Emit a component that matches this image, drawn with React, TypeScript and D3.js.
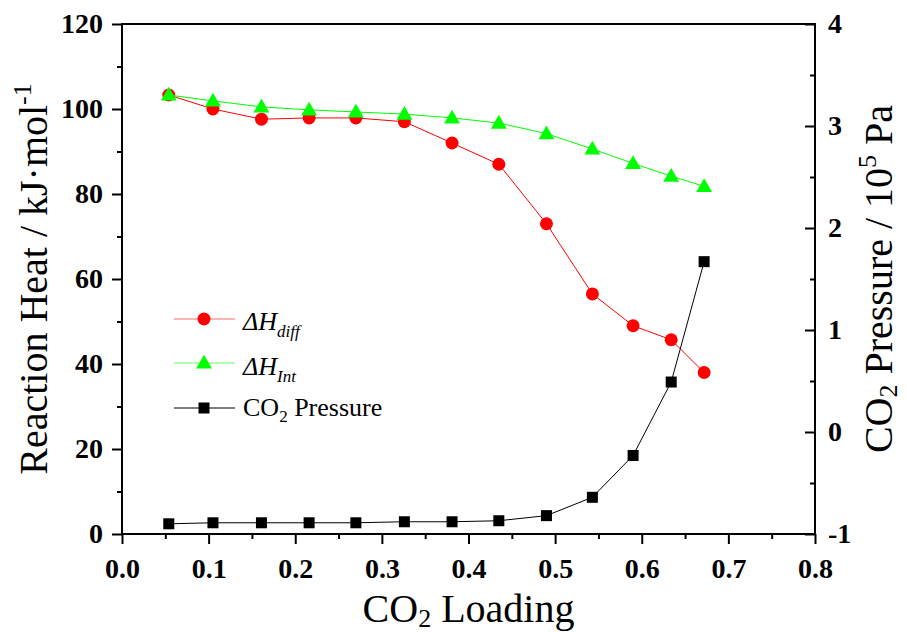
import React, { useEffect, useRef } from 'react';
import * as d3 from 'd3';

// CO2 loading (x) for every measured point
const loading = [0.054, 0.105, 0.161, 0.216, 0.270, 0.326, 0.381, 0.435, 0.490, 0.543, 0.590, 0.634, 0.672];
// differential reaction heat, kJ/mol
const dhDiff = [103.3, 100.0, 97.6, 97.9, 97.9, 97.0, 92.0, 87.0, 73.0, 56.5, 49.0, 45.7, 38.0];
// integral reaction heat, kJ/mol
const dhInt = [103.3, 101.9, 100.5, 99.8, 99.3, 98.8, 97.9, 96.7, 94.2, 90.6, 87.2, 84.2, 81.8];
// CO2 pressure, 10^5 Pa (right axis)
const pressure = [-0.90, -0.89, -0.89, -0.89, -0.89, -0.88, -0.88, -0.87, -0.82, -0.64, -0.23, 0.49, 1.67];

const xTicks = [0, 0.1, 0.2, 0.3, 0.4, 0.5, 0.6, 0.7, 0.8];
const yLeftTicks = [0, 20, 40, 60, 80, 100, 120];
const yRightTicks = [-1, 0, 1, 2, 3, 4];

const FONT = "'Liberation Serif', 'Times New Roman', serif";

export default function App() {
    const ref = useRef<SVGSVGElement>(null);

    useEffect(() => {
        const svg = d3.select(ref.current);
        svg.selectAll('*').remove();

        const left = 122, right = 815, top = 24, bottom = 534;

        const x = d3.scaleLinear().domain([0, 0.8]).range([left, right]);
        const yL = d3.scaleLinear().domain([0, 120]).range([bottom, top]);
        const yR = d3.scaleLinear().domain([-1, 4]).range([bottom, top]);

        const g = svg.append('g');

        // frame
        g.append('rect')
            .attr('x', left).attr('y', top)
            .attr('width', right - left).attr('height', bottom - top)
            .attr('fill', 'none').attr('stroke', '#000').attr('stroke-width', 2);

        // bottom axis, outward ticks
        const bottomAxis = g.append('g')
            .attr('transform', `translate(0,${bottom})`)
            .call(d3.axisBottom(x).tickValues(xTicks).tickSize(10).tickPadding(14)
                .tickFormat(d3.format('.1f')));
        g.append('g')
            .attr('transform', `translate(0,${bottom})`)
            .call(d3.axisBottom(x).tickValues(d3.range(0.05, 0.8, 0.1)).tickSize(5).tickFormat(() => ''));

        // left axis, outward ticks
        const leftAxis = g.append('g')
            .attr('transform', `translate(${left},0)`)
            .call(d3.axisLeft(yL).tickValues(yLeftTicks).tickSize(10).tickPadding(8));
        g.append('g')
            .attr('transform', `translate(${left},0)`)
            .call(d3.axisLeft(yL).tickValues(d3.range(10, 120, 20)).tickSize(5).tickFormat(() => ''));

        // right axis, inward ticks
        const rightAxis = g.append('g')
            .attr('transform', `translate(${right},0)`)
            .call(d3.axisRight(yR).tickValues(yRightTicks).tickSize(-10).tickPadding(14)
                .tickFormat(d => String(d)));
        g.append('g')
            .attr('transform', `translate(${right},0)`)
            .call(d3.axisRight(yR).tickValues(d3.range(-0.5, 4, 1)).tickSize(-5).tickFormat(() => ''));

        svg.selectAll('.domain').remove();
        svg.selectAll('.tick line').attr('stroke', '#000').attr('stroke-width', 2);

        [bottomAxis, leftAxis, rightAxis].forEach(a => {
            a.selectAll('text')
                .attr('font-family', FONT)
                .attr('font-weight', 'bold')
                .attr('font-size', 28)
                .attr('fill', '#000');
        });
        leftAxis.selectAll('.tick text').attr('x', -19);
        rightAxis.selectAll('.tick text').attr('x', 13).attr('text-anchor', 'start');

        // series
        const lineL = (vals: number[]) => d3.line<number>()
            .x((d, i) => x(loading[i]))
            .y(d => yL(d))(vals);

        g.append('path').attr('d', lineL(dhDiff))
            .attr('fill', 'none').attr('stroke', '#ff0000').attr('stroke-width', 1);
        g.selectAll('.red').data(dhDiff).enter().append('circle')
            .attr('cx', (d, i) => x(loading[i])).attr('cy', d => yL(d))
            .attr('r', 6.5).attr('fill', '#ff0000');

        const tri = d3.symbol().type(d3.symbolTriangle).size(110);
        g.append('path').attr('d', lineL(dhInt))
            .attr('fill', 'none').attr('stroke', '#00ff00').attr('stroke-width', 1);
        g.selectAll('.green').data(dhInt).enter().append('path')
            .attr('d', tri())
            .attr('transform', (d, i) => `translate(${x(loading[i])},${yL(d) + 1})`)
            .attr('fill', '#00ff00');

        const lineR = d3.line<number>()
            .x((d, i) => x(loading[i]))
            .y(d => yR(d));
        g.append('path').attr('d', lineR(pressure))
            .attr('fill', 'none').attr('stroke', '#000').attr('stroke-width', 1);
        g.selectAll('.black').data(pressure).enter().append('rect')
            .attr('x', (d, i) => x(loading[i]) - 5.5).attr('y', d => yR(d) - 5.5)
            .attr('width', 11).attr('height', 11).attr('fill', '#000');

        // legend
        const lg = g.append('g').attr('font-family', FONT).attr('font-size', 26);
        const rows = [
            { y: 319, color: '#ff0000', kind: 'circle' },
            { y: 363, color: '#00ff00', kind: 'tri' },
            { y: 408, color: '#000', kind: 'square' },
        ];
        rows.forEach(r => {
            lg.append('line').attr('x1', 174).attr('x2', 235).attr('y1', r.y).attr('y2', r.y)
                .attr('stroke', r.color).attr('stroke-opacity', r.color === '#000' ? 1 : 0.6)
                .attr('stroke-width', 1);
            if (r.kind === 'circle') lg.append('circle').attr('cx', 204).attr('cy', r.y).attr('r', 6.5).attr('fill', r.color);
            if (r.kind === 'tri') lg.append('path').attr('d', tri()).attr('transform', `translate(204,${r.y + 1})`).attr('fill', r.color);
            if (r.kind === 'square') lg.append('rect').attr('x', 198.5).attr('y', r.y - 5.5).attr('width', 11).attr('height', 11).attr('fill', r.color);
        });

        const t1 = lg.append('text').attr('x', 243).attr('y', 330).attr('font-style', 'italic');
        t1.append('tspan').text('ΔH');
        t1.append('tspan').attr('font-size', 17).attr('dy', 7).text('diff');

        const t2 = lg.append('text').attr('x', 243).attr('y', 375).attr('font-style', 'italic');
        t2.append('tspan').text('ΔH');
        t2.append('tspan').attr('font-size', 17).attr('dy', 7).text('Int');

        const t3 = lg.append('text').attr('x', 243).attr('y', 416);
        t3.append('tspan').text('CO');
        t3.append('tspan').attr('font-size', 17).attr('dy', 6).text('2');
        t3.append('tspan').attr('dy', -6).text(' Pressure');

        // axis titles
        const xt = g.append('text').attr('x', (left + right) / 2).attr('y', 622)
            .attr('text-anchor', 'middle').attr('font-family', FONT).attr('font-size', 40);
        xt.append('tspan').text('CO');
        xt.append('tspan').attr('font-size', 26).attr('dy', 5).text('2');
        xt.append('tspan').attr('dy', -5).text(' Loading');

        const ylt = g.append('text')
            .attr('transform', `translate(47,${(top + bottom) / 2}) rotate(-90)`)
            .attr('text-anchor', 'middle').attr('font-family', FONT).attr('font-size', 40);
        ylt.append('tspan').text('Reaction Heat / kJ·mol');
        ylt.append('tspan').attr('font-size', 26).attr('dy', -16).text('-1');

        const yrt = g.append('text')
            .attr('transform', `translate(892,${(top + bottom) / 2}) rotate(-90)`)
            .attr('text-anchor', 'middle').attr('font-family', FONT).attr('font-size', 40);
        yrt.append('tspan').text('CO');
        yrt.append('tspan').attr('font-size', 26).attr('dy', 5).text('2');
        yrt.append('tspan').attr('dy', -5).text(' Pressure / 10');
        yrt.append('tspan').attr('font-size', 26).attr('dy', -16).text('5');
        yrt.append('tspan').attr('dy', 16).text(' Pa');
    }, []);

    return (
        <svg ref={ref} width={907} height={632}
            style={{ position: 'absolute', left: 0, top: 0, display: 'block', background: '#fff' }} />
    );
}
